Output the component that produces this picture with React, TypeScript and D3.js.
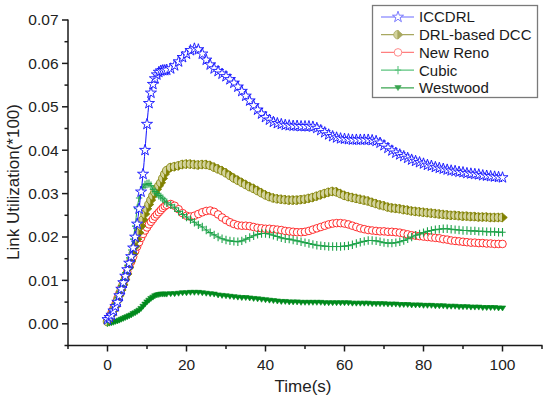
import React from "react";
import * as d3 from "d3";

const TIME = [0,0.5,1,1.5,2,2.5,3,3.5,4,4.5,5,5.5,6,6.5,7,7.5,8,8.5,9,9.5,10,10.5,11,11.5,12,12.5,13,13.5,14,14.5,15,
16,17,18,19,20,21,22,23,24,25,26,27,28,29,30,31,32,33,34,35,36,37,38,39,40,41,42,43,44,45,46,47,48,49,50,
51,52,53,54,55,56,57,58,59,60,61,62,63,64,65,66,67,68,69,70,71,72,73,74,75,76,77,78,79,80,
81,82,83,84,85,86,87,88,89,90,91,92,93,94,95,96,97,98,99,100];

const ICCDRL = [0.001,0.0015,0.002,0.003,0.004,0.005,0.0065,0.008,0.0095,0.011,0.0125,0.014,0.0155,0.0175,0.02,0.023,0.0265,0.0304,0.0345,0.04,0.046,0.0508,0.0532,0.0552,0.0565,0.0574,0.058,0.0583,0.0584,0.0584,0.0585,
0.0588,0.0595,0.0604,0.0614,0.0622,0.063,0.0634,0.0632,0.0622,0.0608,
0.0597,0.0588,0.0582,0.0576,0.057,0.0563,0.0555,0.0546,0.0536,0.0525,
0.0514,0.0503,0.0493,0.0484,0.0476,0.047,0.0465,0.0462,0.046,0.0458,
0.0457,0.0456,0.0456,0.0455,0.0455,0.0455,0.0454,0.0451,0.0446,0.0441,
0.0436,0.0432,0.0429,0.0427,0.0426,0.0425,0.0424,0.0424,0.0424,0.0424,
0.0424,0.0423,0.0421,0.0417,0.0411,0.0405,0.0399,0.0394,0.039,0.0386,
0.0382,0.0378,0.0375,0.0372,0.0369,0.0366,0.0364,0.0361,0.0359,0.0357,
0.0355,0.0353,0.0352,0.035,0.0349,0.0347,0.0346,0.0345,0.0344,0.0342,
0.0341,0.034,0.0339,0.0338,0.0337];

const DRL_DCC = [0.0005,0.001,0.002,0.003,0.004,0.0052,0.0065,0.0078,0.009,0.0102,0.0115,0.013,0.0145,0.0161,0.0178,0.0195,0.021,0.0225,0.024,0.0253,0.0265,0.0275,0.0285,0.0295,0.0303,0.031,0.0318,0.0325,0.0335,0.0345,0.0353,
0.036,0.0362,0.0364,0.0367,0.0368,0.0368,0.0367,0.0366,0.0367,0.0367,
0.0365,0.0361,0.0357,0.0353,0.0348,0.0342,0.0336,0.0331,0.0326,0.0321,
0.0316,0.0312,0.0307,0.0302,0.0297,0.0293,0.029,0.0288,0.0287,0.0286,
0.0285,0.0285,0.0285,0.0286,0.0287,0.0289,0.0291,0.0294,0.0297,0.03,
0.0303,0.0305,0.0304,0.03,0.0296,0.0293,0.0291,0.0289,0.0287,0.0285,
0.0283,0.028,0.0277,0.0274,0.0272,0.0269,0.0267,0.0266,0.0265,0.0263,
0.0262,0.026,0.0259,0.0258,0.0257,0.0256,0.0255,0.0254,0.0253,0.0252,
0.0251,0.025,0.025,0.0249,0.0248,0.0248,0.0247,0.0247,0.0246,0.0246,
0.0246,0.0245,0.0245,0.0245,0.0245];

const NEW_RENO = [0.0008,0.0015,0.0025,0.0035,0.0045,0.0058,0.007,0.0083,0.0095,0.0108,0.012,0.0132,0.0143,0.0155,0.0167,0.0178,0.0188,0.0198,0.0207,0.0215,0.0222,0.0229,0.0235,0.0241,0.0247,0.0252,0.0257,0.0262,0.0267,0.0271,0.0274,
0.0276,0.0272,0.0264,0.0255,0.0249,0.0247,0.0249,0.0253,0.0257,0.026,
0.0261,0.0258,0.0252,0.0245,0.0239,0.0234,0.023,0.0227,0.0226,0.0226,
0.0225,0.0223,0.0221,0.022,0.0219,0.0219,0.0218,0.0217,0.0216,0.0214,
0.0213,0.0212,0.0211,0.0211,0.0212,0.0214,0.0217,0.022,0.0223,0.0226,
0.0229,0.0231,0.0232,0.0232,0.0231,0.0229,0.0226,0.0223,0.022,0.0218,
0.0216,0.0215,0.0214,0.0213,0.0213,0.0212,0.0212,0.0211,0.021,0.0208,
0.0206,0.0204,0.0203,0.0202,0.0201,0.02,0.0199,0.0198,0.0197,0.0195,
0.0194,0.0192,0.0191,0.019,0.0189,0.0188,0.0187,0.0187,0.0186,0.0186,
0.0185,0.0185,0.0184,0.0184,0.0184];

const CUBIC = [0.0004,0.0012,0.0022,0.0034,0.0046,0.006,0.0074,0.0088,0.0102,0.0118,0.0135,0.0152,0.017,0.0195,0.0225,0.0265,0.029,0.0305,0.0315,0.032,0.0322,0.0323,0.0318,0.031,0.0305,0.03,0.0296,0.0292,0.0288,0.0283,0.0279,
0.0274,0.0267,0.0259,0.0252,0.0246,0.024,0.0234,0.0228,0.0223,0.0216,
0.021,0.0205,0.02,0.0196,0.0193,0.0191,0.019,0.0189,0.0191,0.0195,
0.0199,0.0203,0.0206,0.0208,0.0208,0.0207,0.0204,0.0201,0.0198,0.0196,
0.0195,0.0193,0.0191,0.0189,0.0187,0.0185,0.0183,0.0181,0.018,0.0179,
0.0178,0.0178,0.0178,0.0178,0.0179,0.018,0.0182,0.0185,0.0188,0.019,
0.0192,0.0192,0.0191,0.0189,0.0187,0.0186,0.0186,0.0187,0.0189,0.0192,
0.0196,0.02,0.0204,0.0207,0.021,0.0213,0.0215,0.0217,0.0218,0.0219,
0.0219,0.0218,0.0217,0.0216,0.0215,0.0215,0.0214,0.0214,0.0213,0.0213,
0.0212,0.0212,0.0212,0.0211,0.0211];

const WESTWOOD = [0,0.0001,0.0002,0.0003,0.0005,0.0006,0.0008,0.001,0.0012,0.0014,0.0016,0.0018,0.002,0.0023,0.0025,0.0028,0.0031,0.0035,0.004,0.0045,0.005,0.0054,0.0058,0.0061,0.0064,0.0066,0.0067,0.0068,0.0068,0.0068,0.0068,
0.0069,0.0069,0.007,0.0071,0.0071,0.0072,0.0072,0.0072,0.0071,0.007,
0.0069,0.0068,0.0066,0.0065,0.0064,0.0063,0.0062,0.0061,0.006,0.006,
0.0059,0.0058,0.0057,0.0056,0.0055,0.0054,0.0053,0.0052,0.0051,0.0051,
0.005,0.005,0.005,0.0049,0.0049,0.0049,0.0049,0.0049,0.0049,0.0048,
0.0048,0.0048,0.0048,0.0048,0.0048,0.0048,0.0047,0.0047,0.0047,0.0047,
0.0047,0.0046,0.0046,0.0046,0.0046,0.0045,0.0045,0.0045,0.0044,0.0044,
0.0044,0.0043,0.0043,0.0043,0.0042,0.0042,0.0042,0.0041,0.0041,0.0041,
0.004,0.004,0.004,0.0039,0.0039,0.0039,0.0038,0.0038,0.0038,0.0037,
0.0037,0.0037,0.0037,0.0036,0.0036];

const SERIES_NAMES = ["ICCDRL", "DRL-based DCC", "New Reno", "Cubic", "Westwood"];
const X_TICKS = [0, 20, 40, 60, 80, 100];
const X_MINOR = [-10, 10, 30, 50, 70, 90, 110];
const Y_TICKS = [0, 0.01, 0.02, 0.03, 0.04, 0.05, 0.06, 0.07];
const Y_MINOR = [-0.005, 0.005, 0.015, 0.025, 0.035, 0.045, 0.055, 0.065];

const FONT = "'Liberation Sans', Arial, sans-serif";
const W = 550, H = 398;
const X0 = 68, X1 = 542, Y0 = 345.5, Y1 = 20;

type Kind = "star" | "tri" | "circle" | "plus" | "down";
const STYLE: { color: string; legendColor: string; kind: Kind }[] = [
  { color: "#1010ff", legendColor: "#6b6bff", kind: "star" },
  { color: "#808000", legendColor: "#a8a860", kind: "tri" },
  { color: "#ff1a1a", legendColor: "#ff7f7f", kind: "circle" },
  { color: "#1ea34a", legendColor: "#5cc47f", kind: "plus" },
  { color: "#008a1c", legendColor: "#3aa550", kind: "down" },
];

const starPath = d3.symbol().type(d3.symbolStar).size(38)() as string;

function Marker({ kind, color, x, y }: { kind: Kind; color: string; x: number; y: number }) {
  const t = `translate(${x},${y})`;
  switch (kind) {
    case "star":
      return <path d={starPath} transform={t} fill="#ffffff" stroke={color} strokeWidth={0.9} />;
    case "tri":
      return (
        <g transform={t}>
          <path d="M0,-4.3 A4.3,4.3 0 0 0 0,4.3 Z" fill="#d2d29c" stroke={color} strokeWidth={0.8} />
          <path d="M0,-4.3 L4.8,0 L0,4.3 Z" fill={color} stroke={color} strokeWidth={0.8} />
        </g>
      );
    case "circle":
      return <circle cx={x} cy={y} r={3.8} fill="#ffffff" stroke={color} strokeWidth={0.9} />;
    case "plus":
      return <path d="M-3.2,0H3.2M0,-4.2V4.2" transform={t} stroke={color} strokeWidth={1.1} fill="none" />;
    case "down":
      return <path d="M-3.2,-2.2 L3.2,-2.2 L0,2.8 Z" transform={t} fill={color} stroke={color} strokeWidth={0.6} />;
  }
}

export default function App() {
  const x = d3.scaleLinear().domain([-10, 110]).range([X0, X1]);
  const y = d3.scaleLinear().domain([-0.005, 0.07]).range([Y0, Y1]);
  const allSeries = [ICCDRL, DRL_DCC, NEW_RENO, CUBIC, WESTWOOD];
  const line = d3
    .line<number>()
    .x((_, i) => x(TIME[i]))
    .y((d) => y(d))
    .curve(d3.curveMonotoneX);
  const drawOrder = [4, 2, 1, 3, 0];
  const legendY = [17, 34.7, 52.4, 70.1, 87.8];

  return (
    <svg width={W} height={H} style={{ position: "absolute", left: 0, top: 0, background: "#fff" }}>
      <rect x={0} y={0} width={W} height={H} fill="#ffffff" />
      {drawOrder.map((si) => {
        const s = STYLE[si];
        const data = allSeries[si];
        return (
          <g key={si}>
            <path d={line(data) || ""} fill="none" stroke={s.color} strokeWidth={1} />
            {data.map((v, i) => (
              <Marker key={i} kind={s.kind} color={s.color} x={x(TIME[i])} y={y(v)} />
            ))}
          </g>
        );
      })}

      {/* axes */}
      <g stroke="#1a1a1a" strokeWidth={1.5} fill="none">
        <line x1={X0} x2={X1 + 0.5} y1={Y0} y2={Y0} />
        <line x1={X0} x2={X0} y1={Y1 - 0.5} y2={Y0 + 0.75} />
        {X_TICKS.map((t) => (
          <line key={"xt" + t} x1={x(t)} x2={x(t)} y1={Y0} y2={Y0 + 6} />
        ))}
        {X_MINOR.map((t) => (
          <line key={"xm" + t} x1={x(t)} x2={x(t)} y1={Y0} y2={Y0 + 3.5} />
        ))}
        {Y_TICKS.map((t) => (
          <line key={"yt" + t} x1={X0 - 6} x2={X0} y1={y(t)} y2={y(t)} />
        ))}
        {Y_MINOR.map((t) => (
          <line key={"ym" + t} x1={X0 - 3.5} x2={X0} y1={y(t)} y2={y(t)} />
        ))}
      </g>
      <g fontFamily={FONT} fontSize={15.5} fill="#222">
        {X_TICKS.map((t) => (
          <text key={"xl" + t} x={x(t)} y={369.5} textAnchor="middle">
            {t}
          </text>
        ))}
        {Y_TICKS.map((t) => (
          <text key={"yl" + t} x={58.5} y={y(t)} dy="0.35em" textAnchor="end">
            {d3.format(".2f")(t)}
          </text>
        ))}
      </g>
      <text x={303} y={392} textAnchor="middle" fontFamily={FONT} fontSize={17} fill="#222">
        Time(s)
      </text>
      <text
        transform="translate(19,182) rotate(-90)"
        textAnchor="middle"
        fontFamily={FONT}
        fontSize={17}
        fill="#222"
      >
        Link Utilization(*100)
      </text>

      {/* legend */}
      <rect x={372.5} y={5.5} width={165} height={92} fill="#ffffff" stroke="#7a7a7a" strokeWidth={1.3} />
      {SERIES_NAMES.map((name, i) => {
        const s = STYLE[i];
        const ly = legendY[i];
        return (
          <g key={name}>
            <line x1={381} x2={414} y1={ly} y2={ly} stroke={s.legendColor} strokeWidth={1.2} />
            <Marker kind={s.kind} color={s.legendColor} x={398} y={ly} />
            <text x={419} y={ly} dy="0.36em" fontFamily={FONT} fontSize={15} fill="#1a1a1a">
              {name}
            </text>
          </g>
        );
      })}
    </svg>
  );
}
